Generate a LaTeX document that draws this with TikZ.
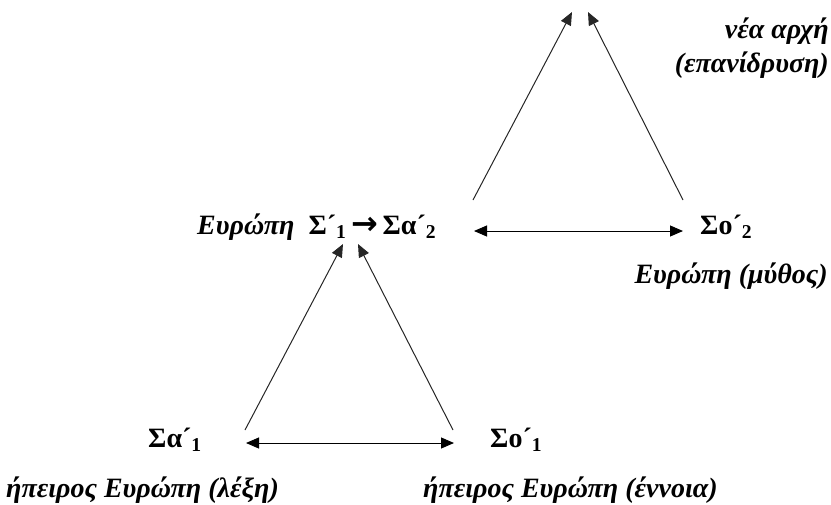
\documentclass[tikz,border=0pt]{standalone}
\usepackage{fontspec}
\setmainfont{Liberation Serif}
\newfontfamily\arrowfont{DejaVu Sans}
\usetikzlibrary{arrows.meta}
\begin{document}
\begin{tikzpicture}[x=1pt,y=-1pt,
  lbl/.style={inner sep=0pt,font=\fontsize{28}{30}\selectfont\bfseries\itshape},
  sym/.style={inner sep=0pt,font=\fontsize{28}{30}\selectfont\bfseries},
  arr/.style={line width=1pt,draw=black!85,-{Triangle[length=13pt,width=11pt]}},
  darr/.style={line width=1pt,draw=black,{Triangle[length=13pt,width=11pt]}-{Triangle[length=13pt,width=11pt]}}]
\path[use as bounding box] (0,0) rectangle (831,504);
% texts
\node[sym,anchor=base west] (sa1) at (148,447) {Σα´\textsubscript{1}};
\node[sym,anchor=base west] (so1) at (490,447) {Σο´\textsubscript{1}};
\node[lbl,anchor=base west] (lexi) at (6,497) {ήπειρος Ευρώπη (λέξη)};
\node[lbl,anchor=base west] (ennoia) at (423,497) {ήπειρος Ευρώπη (έννοια)};
\node[sym,anchor=base west] (mid) at (197,234) {\textit{Ευρώπη}\ \ Σ´\textsubscript{1}\,{\arrowfont\bfseries\fontsize{32}{30}\selectfont →}\,Σα´\textsubscript{2}};
\node[sym,anchor=base west] (so2) at (700,234) {Σο´\textsubscript{2}};
\node[lbl,anchor=base east] (mythos) at (828,283) {Ευρώπη (μύθος)};
\node[lbl,anchor=base east] (nea) at (829,38) {νέα αρχή};
\node[lbl,anchor=base east] (epan) at (829,72) {(επανίδρυση)};
% connector end points
\coordinate (l1s) at (245,430);
\coordinate (l1e) at (343,244);
\coordinate (r1s) at (453,430);
\coordinate (r1e) at (358,244);
\coordinate (h1l) at (246,443);
\coordinate (h1r) at (454,443);
\coordinate (l2s) at (473,200);
\coordinate (l2e) at (572,12);
\coordinate (r2s) at (683,200);
\coordinate (r2e) at (588,12);
\coordinate (h2l) at (474,231);
\coordinate (h2r) at (683,231);
% connectors
\draw[arr] (l1s) -- (l1e);
\draw[arr] (r1s) -- (r1e);
\draw[darr] (h1l) -- (h1r);
\draw[arr] (l2s) -- (l2e);
\draw[arr] (r2s) -- (r2e);
\draw[darr] (h2l) -- (h2r);
\end{tikzpicture}
\end{document}
